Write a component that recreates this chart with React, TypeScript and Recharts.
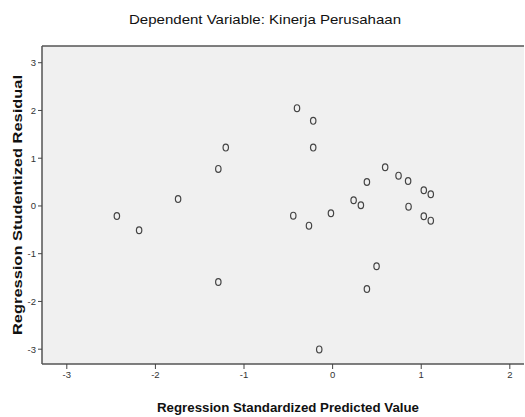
import React from "react";
import { ScatterChart, Scatter, XAxis, YAxis, CartesianGrid, ReferenceLine } from "recharts";

const predicted = [
  -2.435, -2.184, -1.744, -1.29, -1.206, -1.29, -0.402, -0.219, -0.219, -0.444, -0.267, -0.019, -0.151,
  0.237, 0.319, 0.387, 0.593, 0.744, 0.852, 0.857, 1.029, 1.108, 1.029, 1.108, 0.496, 0.387,
];
const residual = [
  -0.21, -0.51, 0.147, 0.776, 1.222, -1.594, 2.048, 1.782, 1.222, -0.203, -0.413, -0.153, -3.004,
  0.119, 0.015, 0.503, 0.811, 0.635, 0.524, -0.015, 0.329, 0.245, -0.216, -0.308, -1.264, -1.74,
];
const xTicks = [-3, -2, -1, 0, 1, 2];
const yTicks = [-3, -2, -1, 0, 1, 2, 3];
const title = "Dependent Variable: Kinerja Perusahaan";
const xLabel = "Regression Standardized Predicted Value";
const yLabel = "Regression Studentized Residual";

const data = predicted.map((x, i) => ({ x, y: residual[i] }));

const Marker = (props: any) => {
  const { cx, cy } = props;
  if (cx == null || cy == null) return null;
  return <ellipse cx={cx} cy={cy} rx={2.7} ry={3.4} fill="none" stroke="#444" strokeWidth={1.2} />;
};

const FONT = "'Liberation Sans', Arial, sans-serif";

export default function App() {
  return (
    <div style={{ position: "fixed", left: 0, top: 0, width: 525, height: 417, background: "#fff" }}>
      <ScatterChart width={525} height={417} margin={{ top: 46, right: 1, bottom: 0, left: 0 }}>
        <CartesianGrid fill="#f0f0f0" horizontal={false} vertical={false} />
        <XAxis
          type="number"
          dataKey="x"
          domain={[-3.28, 2.16]}
          ticks={xTicks}
          allowDataOverflow
          height={53}
          axisLine={{ stroke: "#555", strokeWidth: 1.5 }}
          tickLine={{ stroke: "#444" }}
          tickSize={5}
          tick={{ fontSize: 9.5, fill: "#333", fontFamily: FONT }}
        />
        <YAxis
          type="number"
          dataKey="y"
          domain={[-3.31, 3.35]}
          ticks={yTicks}
          allowDataOverflow
          width={42}
          axisLine={{ stroke: "#555", strokeWidth: 1.5 }}
          tickLine={{ stroke: "#444" }}
          tickSize={4}
          tickMargin={2}
          tick={{ fontSize: 9.5, fill: "#333", fontFamily: FONT }}
        />
        <ReferenceLine y={3.35} stroke="#555" strokeWidth={1.5} />
        <Scatter data={data} shape={Marker} isAnimationActive={false} />
      </ScatterChart>
      <svg width={525} height={417} style={{ position: "absolute", left: 0, top: 0, pointerEvents: "none" }}>
        <text
          x={265}
          y={24}
          textAnchor="middle"
          fontFamily={FONT}
          fontSize={13.5}
          fill="#111"
          textLength={272}
          lengthAdjust="spacingAndGlyphs"
        >
          {title}
        </text>
        <text
          x={288}
          y={412}
          textAnchor="middle"
          fontFamily={FONT}
          fontSize={13.5}
          fontWeight="bold"
          fill="#111"
          textLength={262}
          lengthAdjust="spacingAndGlyphs"
        >
          {xLabel}
        </text>
        <text
          x={0}
          y={0}
          transform="translate(22,205) rotate(-90)"
          textAnchor="middle"
          fontFamily={FONT}
          fontSize={13.5}
          fontWeight="bold"
          fill="#111"
          textLength={260}
          lengthAdjust="spacingAndGlyphs"
        >
          {yLabel}
        </text>
      </svg>
    </div>
  );
}
